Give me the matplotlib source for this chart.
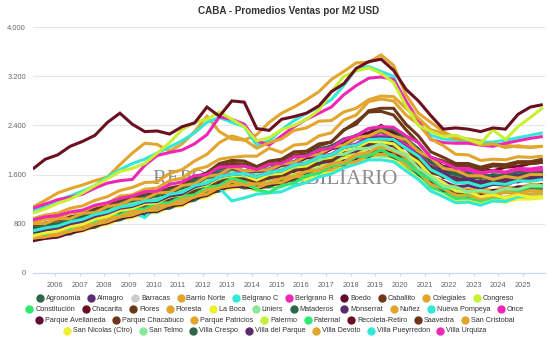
import numpy as np
import matplotlib
matplotlib.use("Agg")
import matplotlib.pyplot as plt
from matplotlib.lines import Line2D
from matplotlib.ticker import FuncFormatter

# ---------------- data (USD per m2, semiannual points 2005 -> 2025) ----------------
years = np.linspace(2005.1, 2025.8, 42)

agronomia = [680, 720, 750, 810, 860, 940, 990, 1060, 1100, 1170,
             1190, 1290, 1320, 1440, 1510, 1630, 1670, 1620, 1650, 1660,
             1750, 1780, 1880, 1920, 2020, 2060, 2190, 2210, 2300, 2180,
             2120, 1890, 1770, 1620, 1600, 1540, 1550, 1520, 1570, 1570,
             1610, 1620]
almagro = [700, 730, 800, 830, 910, 950, 1040, 1080, 1150, 1170,
           1250, 1270, 1380, 1430, 1570, 1610, 1720, 1660, 1670, 1690,
           1780, 1810, 1920, 1950, 2070, 2110, 2240, 2280, 2370, 2280,
           2200, 1970, 1820, 1660, 1640, 1570, 1590, 1570, 1600, 1590,
           1620, 1620]
barrio_norte = [1070, 1180, 1300, 1370, 1430, 1500, 1560, 1760, 1950, 2110,
                2090, 1980, 2100, 2300, 2550, 2300, 2180, 2160, 2250, 2450,
                2600, 2700, 2820, 2950, 3150, 3280, 3420, 3430, 3550, 3380,
                2900, 2600, 2450, 2300, 2200, 2180, 2150, 2100, 2080, 2050,
                2050, 2060]
belgrano_c = [1020, 1080, 1180, 1250, 1330, 1420, 1560, 1680, 1780, 1850,
              1950, 2050, 2150, 2280, 2450, 2530, 2450, 2380, 2080, 2150,
              2330, 2480, 2600, 2700, 2820, 3050, 3330, 3360, 3280, 3200,
              2720, 2420, 2240, 2180, 2160, 2130, 2120, 2130, 2160, 2200,
              2240, 2280]
belgrano_r = [1050, 1120, 1190, 1230, 1280, 1380, 1460, 1500, 1520, 1750,
              1910, 1960, 2000, 2100, 2250, 2540, 2500, 2420, 2150, 2080,
              2230, 2380, 2500, 2600, 2700, 2900, 3050, 3170, 3190, 3150,
              2800, 2480, 2170, 2120, 2110, 2110, 2080, 2060, 2110, 2150,
              2190, 2220]
boedo = [660, 650, 730, 740, 840, 860, 970, 990, 1080, 1080,
         1170, 1180, 1280, 1310, 1440, 1480, 1580, 1510, 1520, 1520,
         1620, 1660, 1740, 1760, 1870, 1930, 2070, 2130, 2220, 2130,
         2070, 1880, 1720, 1560, 1540, 1460, 1470, 1440, 1500, 1480,
         1540, 1540]
caballito = [760, 810, 840, 910, 950, 1040, 1090, 1180, 1210, 1270,
             1290, 1380, 1420, 1550, 1630, 1780, 1830, 1820, 1730, 1820,
             1850, 1970, 1980, 2100, 2130, 2330, 2420, 2640, 2680, 2680,
             2420, 2230, 1970, 1880, 1780, 1780, 1720, 1770, 1760, 1810,
             1810, 1850]
colegiales = [820, 870, 900, 970, 1000, 1090, 1130, 1250, 1270, 1360,
              1380, 1500, 1540, 1680, 1730, 1850, 1880, 1900, 1900, 2030,
              1960, 2080, 2100, 2230, 2280, 2490, 2570, 2790, 2830, 2800,
              2570, 2420, 2180, 2070, 1930, 1920, 1830, 1850, 1840, 1890,
              1880, 1900]
congreso = [580, 620, 640, 710, 750, 830, 870, 950, 980, 1050,
            1060, 1150, 1170, 1290, 1310, 1450, 1480, 1500, 1420, 1500,
            1510, 1610, 1630, 1740, 1770, 1890, 1930, 2040, 2060, 2020,
            1820, 1680, 1420, 1320, 1180, 1180, 1130, 1190, 1180, 1240,
            1240, 1270]
constitucion = [560, 600, 620, 690, 730, 810, 850, 920, 950, 1020,
                1030, 1120, 1130, 1230, 1260, 1380, 1400, 1470, 1380, 1400,
                1400, 1500, 1530, 1640, 1680, 1800, 1830, 1920, 1930, 1900,
                1720, 1610, 1390, 1320, 1210, 1220, 1170, 1230, 1220, 1280,
                1280, 1300]
chacarita = [620, 660, 680, 750, 790, 870, 920, 1010, 1050, 1130,
             1140, 1240, 1260, 1390, 1470, 1550, 1580, 1430, 1570, 1600,
             1720, 1760, 1870, 1910, 2020, 2080, 2230, 2270, 2400, 2280,
             2170, 1970, 1870, 1730, 1720, 1660, 1680, 1660, 1720, 1730,
             1780, 1800]
flores = [670, 660, 750, 740, 860, 860, 980, 980, 1090, 1070,
          1180, 1170, 1290, 1300, 1450, 1470, 1610, 1520, 1560, 1540,
          1650, 1650, 1770, 1770, 1900, 1920, 2080, 2090, 2180, 2070,
          2030, 1820, 1710, 1550, 1550, 1460, 1500, 1450, 1530, 1490,
          1570, 1560]
floresta = [620, 610, 690, 700, 800, 820, 920, 940, 1030, 1030,
            1120, 1130, 1230, 1260, 1380, 1410, 1520, 1460, 1480, 1480,
            1570, 1580, 1670, 1680, 1780, 1810, 1920, 1940, 2020, 1930,
            1870, 1680, 1570, 1430, 1420, 1350, 1370, 1340, 1400, 1380,
            1440, 1440]
la_boca = [550, 580, 590, 650, 680, 750, 790, 870, 900, 970,
           980, 1070, 1090, 1200, 1230, 1340, 1380, 1400, 1340, 1420,
           1420, 1510, 1520, 1620, 1630, 1740, 1780, 1890, 1900, 1870,
           1680, 1540, 1330, 1250, 1150, 1160, 1110, 1170, 1150, 1200,
           1200, 1220]
liniers = [620, 660, 680, 750, 790, 870, 910, 980, 990, 1060,
           980, 1120, 1140, 1250, 1290, 1400, 1430, 1460, 1400, 1480,
           1480, 1580, 1600, 1700, 1720, 1830, 1850, 1920, 1900, 1900,
           1760, 1640, 1450, 1390, 1300, 1310, 1260, 1320, 1300, 1360,
           1350, 1380]
mataderos = [580, 560, 630, 630, 720, 740, 840, 860, 950, 950,
             1040, 1050, 1150, 1180, 1300, 1330, 1440, 1380, 1400, 1400,
             1490, 1510, 1610, 1630, 1730, 1760, 1870, 1890, 1980, 1880,
             1800, 1600, 1480, 1340, 1320, 1250, 1280, 1260, 1320, 1300,
             1360, 1360]
monserrat = [600, 640, 660, 730, 770, 850, 890, 970, 1000, 1070,
             1080, 1170, 1190, 1310, 1360, 1480, 1520, 1540, 1480, 1560,
             1570, 1670, 1690, 1790, 1820, 1940, 1980, 2080, 2080, 2070,
             1900, 1770, 1560, 1490, 1400, 1420, 1380, 1440, 1430, 1500,
             1500, 1560]
nunez = [880, 940, 970, 1050, 1090, 1180, 1240, 1340, 1390, 1470,
         1480, 1620, 1680, 1820, 1930, 2120, 2230, 2170, 2030, 2120,
         2180, 2320, 2360, 2470, 2480, 2620, 2680, 2820, 2880, 2870,
         2680, 2520, 2330, 2270, 2180, 2170, 2080, 2100, 2040, 2070,
         2040, 2060]
nueva_pompeya = [640, 680, 700, 770, 810, 890, 930, 1000, 980, 900,
                 1080, 1130, 1160, 1350, 1450, 1380, 1170, 1220, 1280, 1300,
                 1320, 1410, 1470, 1560, 1610, 1710, 1770, 1840, 1840, 1810,
                 1660, 1520, 1330, 1240, 1140, 1150, 1100, 1170, 1160, 1240,
                 1240, 1300]
once = [640, 680, 700, 770, 810, 890, 940, 1030, 1070, 1150,
        1160, 1260, 1290, 1410, 1460, 1580, 1630, 1640, 1580, 1660,
        1680, 1780, 1800, 1900, 1930, 2050, 2100, 2220, 2230, 2220,
        2080, 1970, 1780, 1720, 1640, 1660, 1610, 1660, 1640, 1700,
        1690, 1720]
parque_avellaneda = [520, 560, 580, 650, 690, 770, 810, 890, 920, 990,
                     1000, 1090, 1110, 1220, 1260, 1370, 1400, 1420, 1360, 1440,
                     1450, 1550, 1570, 1670, 1700, 1820, 1860, 1970, 1980, 1960,
                     1800, 1680, 1480, 1420, 1320, 1330, 1280, 1340, 1330, 1400,
                     1390, 1440]
parque_chacabuco = [620, 660, 680, 740, 780, 860, 900, 990, 1020, 1100,
                    1110, 1200, 1220, 1330, 1380, 1500, 1530, 1550, 1480, 1570,
                    1580, 1680, 1700, 1810, 1840, 1970, 2010, 2120, 2130, 2100,
                    1930, 1820, 1630, 1580, 1480, 1490, 1430, 1480, 1460, 1520,
                    1500, 1530]
parque_patricios = [560, 590, 610, 680, 710, 790, 830, 910, 940, 1010,
                    1020, 1110, 1130, 1240, 1280, 1390, 1420, 1440, 1380, 1460,
                    1470, 1560, 1570, 1660, 1680, 1780, 1810, 1920, 1930, 1920,
                    1760, 1640, 1440, 1370, 1260, 1260, 1200, 1250, 1230, 1290,
                    1280, 1300]
palermo = [970, 1040, 1130, 1200, 1300, 1420, 1530, 1650, 1700, 1780,
           1950, 2120, 2330, 2450, 2500, 2620, 2500, 2380, 2150, 2200,
           2330, 2400, 2500, 2650, 2950, 3200, 3290, 3340, 3250, 3100,
           2720, 2400, 2300, 2220, 2240, 2170, 2110, 2330, 2170, 2380,
           2530, 2690]
paternal = [620, 610, 690, 700, 800, 820, 920, 940, 1030, 1040,
            1130, 1140, 1240, 1270, 1390, 1420, 1540, 1480, 1350, 1310,
            1420, 1460, 1580, 1620, 1740, 1780, 1890, 1910, 2000, 1900,
            1820, 1630, 1520, 1380, 1360, 1290, 1320, 1290, 1350, 1340,
            1400, 1400]
recoleta = [1690, 1850, 1920, 2060, 2140, 2240, 2450, 2600, 2420, 2300,
            2310, 2260, 2380, 2440, 2700, 2550, 2800, 2780, 2350, 2320,
            2500, 2545, 2600, 2720, 2950, 3080, 3330, 3440, 3480, 3300,
            2990, 2800, 2560, 2340, 2360, 2340, 2300, 2360, 2340, 2580,
            2700, 2740]
saavedra = [700, 750, 780, 850, 890, 970, 1020, 1110, 1140, 1220,
            1230, 1320, 1360, 1500, 1580, 1740, 1780, 1770, 1680, 1780,
            1800, 1920, 1930, 2070, 2130, 2320, 2460, 2620, 2630, 2570,
            2330, 2120, 1880, 1820, 1740, 1740, 1680, 1740, 1730, 1790,
            1780, 1800]
san_cristobal = [590, 580, 660, 670, 770, 790, 890, 910, 1000, 1000,
                 1090, 1100, 1200, 1230, 1350, 1380, 1490, 1430, 1450, 1450,
                 1540, 1560, 1650, 1670, 1770, 1800, 1920, 1960, 2070, 1980,
                 1900, 1700, 1580, 1430, 1400, 1310, 1320, 1270, 1320, 1290,
                 1340, 1330]
san_nicolas = [600, 650, 680, 750, 790, 870, 920, 1010, 1050, 1120,
               1140, 1240, 1270, 1390, 1430, 1540, 1580, 1580, 1510, 1600,
               1620, 1720, 1740, 1850, 1880, 2000, 2040, 2140, 2130, 2100,
               1930, 1800, 1580, 1470, 1330, 1320, 1240, 1270, 1220, 1270,
               1230, 1240]
san_telmo = [720, 720, 810, 820, 920, 940, 1040, 1060, 1140, 1140,
             1220, 1230, 1340, 1380, 1500, 1530, 1640, 1580, 1600, 1600,
             1700, 1720, 1820, 1830, 1920, 1930, 2020, 2030, 2100, 2000,
             1920, 1700, 1570, 1410, 1390, 1320, 1340, 1310, 1370, 1360,
             1420, 1420]
villa_crespo = [720, 770, 800, 870, 910, 1000, 1050, 1140, 1170, 1240,
                1250, 1350, 1380, 1510, 1560, 1690, 1730, 1740, 1670, 1760,
                1780, 1890, 1910, 2020, 2060, 2180, 2230, 2350, 2360, 2340,
                2180, 2020, 1800, 1720, 1620, 1620, 1550, 1600, 1580, 1640,
                1630, 1660]
villa_del_parque = [660, 700, 730, 800, 840, 920, 970, 1050, 1080, 1150,
                    1160, 1250, 1280, 1400, 1450, 1570, 1600, 1620, 1560, 1640,
                    1660, 1760, 1780, 1890, 1920, 2040, 2080, 2190, 2200, 2190,
                    2040, 1920, 1700, 1620, 1520, 1530, 1470, 1520, 1500, 1560,
                    1550, 1580]
villa_devoto = [800, 800, 880, 880, 970, 980, 1080, 1110, 1200, 1200,
                1300, 1310, 1420, 1450, 1570, 1600, 1720, 1660, 1670, 1680,
                1770, 1800, 1900, 1930, 2040, 2080, 2200, 2230, 2320, 2230,
                2170, 1980, 1870, 1700, 1670, 1580, 1580, 1520, 1570, 1540,
                1600, 1600]
villa_pueyrredon = [680, 730, 760, 830, 870, 950, 990, 1070, 1100, 1170,
                    1180, 1280, 1310, 1420, 1460, 1570, 1600, 1620, 1560, 1640,
                    1660, 1760, 1780, 1890, 1920, 2040, 2080, 2170, 2180, 2170,
                    2030, 1900, 1680, 1580, 1460, 1470, 1410, 1460, 1440, 1500,
                    1490, 1520]
villa_urquiza = [860, 910, 930, 990, 1020, 1100, 1140, 1210, 1250, 1320,
                 1330, 1440, 1480, 1580, 1600, 1720, 1730, 1740, 1680, 1770,
                 1780, 1890, 1900, 2000, 2030, 2170, 2230, 2350, 2380, 2370,
                 2230, 2120, 1880, 1800, 1700, 1700, 1630, 1660, 1630, 1680,
                 1660, 1680]

# ---------------- styles ----------------
C_DKGREEN = "#2f6648"
C_PURPLE = "#5b2c70"
C_GRAY = "#cccccc"
C_GOLD = "#e2a52d"
C_CYAN = "#33e8d6"
C_MAGENTA = "#ee28b4"
C_MAROON = "#6b1020"
C_WINE = "#620c34"
C_BROWN = "#6e3718"
C_YG = "#c8f032"
C_GREEN = "#2fe872"
C_YELLOW = "#eef032"
C_LGREEN = "#8ae896"

# (legend name, values or None if hidden, colour)
series = [
    ("Agronomía", agronomia, C_DKGREEN),
    ("Almagro", almagro, C_PURPLE),
    ("Barracas", None, C_GRAY),
    ("Barrio Norte", barrio_norte, C_GOLD),
    ("Belgrano C", belgrano_c, C_CYAN),
    ("Berlgrano R", belgrano_r, C_MAGENTA),
    ("Boedo", boedo, C_WINE),
    ("Caballito", caballito, C_BROWN),
    ("Colegiales", colegiales, C_GOLD),
    ("Congreso", congreso, C_YG),
    ("Constitución", constitucion, C_GREEN),
    ("Chacarita", chacarita, C_MAROON),
    ("Flores", flores, C_BROWN),
    ("Floresta", floresta, C_GOLD),
    ("La Boca", la_boca, C_YELLOW),
    ("Liniers", liniers, C_LGREEN),
    ("Mataderos", mataderos, C_DKGREEN),
    ("Monserrat", monserrat, C_PURPLE),
    ("Nuñez", nunez, C_GOLD),
    ("Nueva Pompeya", nueva_pompeya, C_CYAN),
    ("Once", once, C_MAGENTA),
    ("Parque Avellaneda", parque_avellaneda, C_WINE),
    ("Parque Chacabuco", parque_chacabuco, C_BROWN),
    ("Parque Patricios", parque_patricios, C_GOLD),
    ("Palermo", palermo, C_YG),
    ("Paternal", paternal, C_GREEN),
    ("Recoleta-Retiro", recoleta, C_MAROON),
    ("Saavedra", saavedra, C_BROWN),
    ("San Cristobal", san_cristobal, C_GOLD),
    ("San Nicolas (Ctro)", san_nicolas, C_YELLOW),
    ("San Telmo", san_telmo, C_LGREEN),
    ("Villa Crespo", villa_crespo, C_DKGREEN),
    ("Villa del Parque", villa_del_parque, C_PURPLE),
    ("Villa Devoto", villa_devoto, C_GOLD),
    ("Villa Pueyrredon", villa_pueyrredon, C_CYAN),
    ("Villa Urquiza", villa_urquiza, C_MAGENTA),
]
legend_row_sizes = [10, 11, 8, 7]

y_ticks = [0, 800, 1600, 2400, 3200, 4000]
x_ticks = list(range(2006, 2026))

plt.rcParams['font.family'] = ['Liberation Sans', 'DejaVu Sans']

W, H = 550, 341
fig = plt.figure(figsize=(W / 100, H / 100), dpi=100)
ax_l, ax_r, ax_t, ax_b = 33, 545, 27.3, 272.7
ax = fig.add_axes([ax_l / W, 1 - ax_b / H, (ax_r - ax_l) / W, (ax_b - ax_t) / H])

for k, (name, vals, col) in enumerate(series):
    if vals is None:
        continue
    assert len(vals) == len(years), name
    ax.plot(years, vals, color=col, lw=2.2, solid_joinstyle='miter',
            solid_capstyle='butt', zorder=3 + k * 0.01)

ax.set_xlim(2005.107, 2025.89)
ax.set_ylim(0, 4000)
ax.set_yticks(y_ticks)
ax.yaxis.set_major_formatter(FuncFormatter(lambda v, p: f"{int(v):,}".replace(",", ".")))
ax.set_xticks(x_ticks)
ax.set_xticklabels([str(y) for y in x_ticks])
ax.grid(axis='y', color='#e6e6e6', lw=0.8, zorder=0)
ax.tick_params(axis='y', length=0, pad=5, labelsize=5.4, labelcolor='#666666')
ax.tick_params(axis='x', length=2.2, width=0.8, color='#ccd6eb', pad=4.5,
               labelsize=5.4, labelcolor='#666666')
for s in ['top', 'right', 'left']:
    ax.spines[s].set_visible(False)
ax.spines['bottom'].set_color('#ccd6eb')
ax.spines['bottom'].set_linewidth(0.8)
ax.set_axisbelow(True)

# watermark
ax.text(0.473, 0.378, "REPORTE INMOBILIARIO", transform=ax.transAxes,
        fontsize=15, family='Liberation Serif', color='#8c8c8c',
        ha='center', va='center', zorder=1)

# title
fig.text(289 / W, 1 - 11.5 / H, "CABA - Promedios Ventas por M2 USD",
         ha='center', va='center', fontsize=7.1, fontweight='bold', color='#333333')

# legend (rows centred like the original)
renderer = fig.canvas.get_renderer()
row_y = [298.3, 309.3, 320.0, 331.0]
sym_w, gap = 9.5, 7.0
idx = 0
for r, n in enumerate(legend_row_sizes):
    items = series[idx: idx + n]
    idx += n
    yf = 1 - row_y[r] / H
    texts, widths = [], []
    for name, vals, col in items:
        t = fig.text(0, yf, name, fontsize=5.2, ha='left', va='center',
                     color='#333333')
        texts.append(t)
        widths.append(t.get_window_extent(renderer).width)
    total = sum(sym_w + w for w in widths) + gap * (n - 1)
    x = 275 - total / 2
    for (name, vals, col), t, w in zip(items, texts, widths):
        fig.add_artist(Line2D([(x + 3.5) / W], [yf], marker='o', ms=5.0,
                              color=col, mec=col, lw=0,
                              transform=fig.transFigure))
        t.set_position(((x + sym_w) / W, yf))
        x += sym_w + w + gap

fig.savefig("out.png", dpi=100, facecolor='white')
